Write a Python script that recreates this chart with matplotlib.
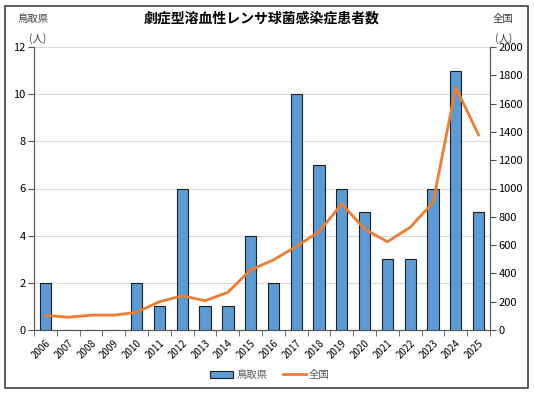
import numpy as np
import matplotlib
matplotlib.use("Agg")
import matplotlib.pyplot as plt
from matplotlib.patches import Rectangle

plt.rcParams['font.family'] = ['Noto Sans CJK JP', 'DejaVu Sans']

years = [str(y) for y in range(2006, 2026)]
tottori = [2, 0, 0, 0, 2, 1, 6, 1, 1, 4, 2, 10, 7, 6, 5, 3, 3, 6, 11, 5]
national = [104, 90, 105, 105, 125, 200, 242, 207, 266, 425,
            495, 590, 695, 890, 714, 624, 726, 900, 1715, 1378]

bar_color = '#5B9BD5'
line_color = '#ED7D31'

fig = plt.figure(figsize=(5.34, 3.94), dpi=100)
ax = fig.add_axes([34 / 534, 1 - 330 / 394, 456 / 534, 283 / 394])
ax2 = ax.twinx()

x = np.arange(len(years))
ax.bar(x, tottori, width=0.5, color=bar_color, edgecolor='#1f1f1f',
       linewidth=0.8, zorder=3, label='鳥取県')
ax2.plot(x, national, color=line_color, linewidth=2, zorder=4, label='全国')

ax.set_xlim(-0.5, len(years) - 0.5)
ax.set_ylim(0, 12)
ax.set_yticks(range(0, 13, 2))
ax2.set_ylim(0, 2000)
ax2.set_yticks(range(0, 2001, 200))

ax.set_xticks(x)
ax.set_xticklabels(years, rotation=45, ha='right', rotation_mode='anchor', fontsize=7)
ax.set_xticks(np.arange(-0.5, len(years)), minor=True)
ax.tick_params(axis='x', which='major', length=0, pad=6)
ax.tick_params(axis='x', which='minor', length=4, direction='out', color='#555555')
ax.tick_params(axis='y', labelsize=8, length=4, color='#555555', pad=2)
ax2.tick_params(axis='y', labelsize=8, length=4, color='#555555', pad=2)

ax.yaxis.grid(True, color='#d9d9d9', linewidth=0.8, zorder=0)
ax.set_axisbelow(True)
for a in (ax, ax2):
    a.spines['top'].set_visible(False)
    a.spines['left'].set_color('#595959')
    a.spines['right'].set_color('#595959')
    a.spines['bottom'].set_color('#595959')
ax.patch.set_visible(True)
ax2.patch.set_visible(False)

fig.text(262 / 534, 1 - 19 / 394, '劇症型溶血性レンサ球菌感染症患者数', ha='center', va='center',
         fontsize=10, fontweight='bold')
fig.text(33 / 534, 1 - 19 / 394, '鳥取県', ha='center', va='center', fontsize=7.5, color='#404040')
fig.text(38 / 534, 1 - 39 / 394, '(人)', ha='center', va='center', fontsize=7.5, color='#404040')
fig.text(503 / 534, 1 - 19 / 394, '全国', ha='center', va='center', fontsize=7.5, color='#404040')
fig.text(504 / 534, 1 - 39 / 394, '(人)', ha='center', va='center', fontsize=7.5, color='#404040')

h1, l1 = ax.get_legend_handles_labels()
h2, l2 = ax2.get_legend_handles_labels()
leg = fig.legend(h1 + h2, l1 + l2, loc='center', bbox_to_anchor=(270 / 534, 1 - 375 / 394),
                 ncol=2, frameon=False, fontsize=7.5, handlelength=2.2, columnspacing=1.5,
                 handletextpad=0.3)
for t in leg.get_texts():
    t.set_color('#595959')

fig.patches.append(Rectangle((5 / 534, 6 / 394), 523 / 534, 382 / 394, transform=fig.transFigure,
                             fill=False, edgecolor='#404040', linewidth=1.2))

fig.savefig('out.png', dpi=100)
